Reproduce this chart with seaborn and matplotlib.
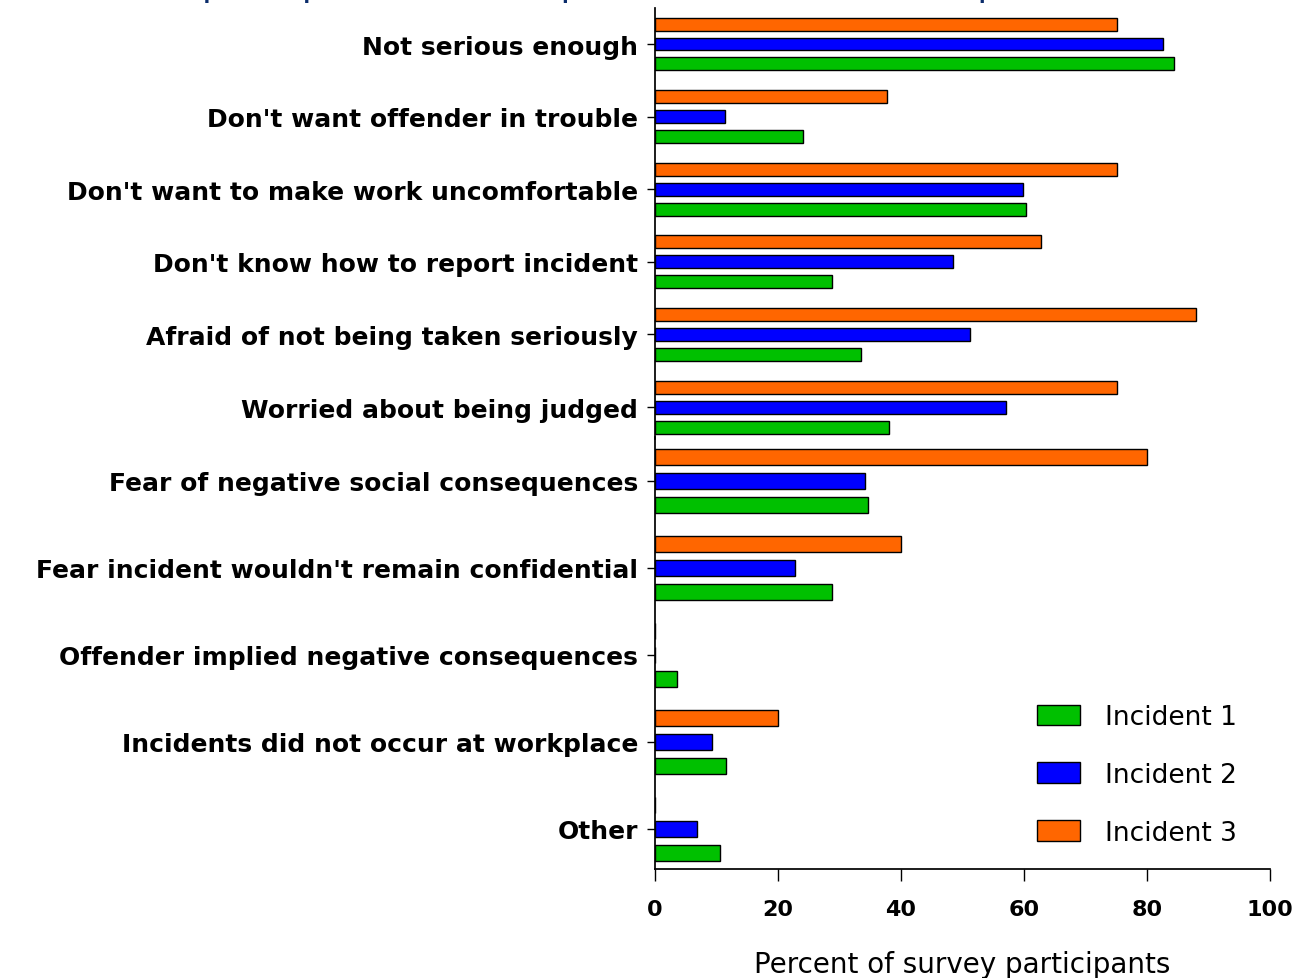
import matplotlib
matplotlib.use("Agg")
import matplotlib.pyplot as plt
import seaborn as sns
import pandas as pd
from matplotlib.patches import Patch

sns.set_theme(style="ticks")
plt.rcParams["font.family"] = ["DejaVu Sans"]
plt.rcParams["text.color"] = "black"

# reasons, upper block and lower block of the chart
reasons_top = [
    "Not serious enough",
    "Don't want offender in trouble",
    "Don't want to make work uncomfortable",
    "Don't know how to report incident",
    "Afraid of not being taken seriously",
    "Worried about being judged",
]
reasons_bottom = [
    "Fear of negative social consequences",
    "Fear incident wouldn't remain confidential",
    "Offender implied negative consequences",
    "Incidents did not occur at workplace",
    "Other",
]

# percent of survey participants
incident1_top = [84.4, 24.1, 60.3, 28.7, 33.5, 38.1]
incident2_top = [82.6, 11.4, 59.8, 48.5, 51.3, 57.0]
incident3_top = [75.2, 37.7, 75.2, 62.7, 87.9, 75.2]
incident1_bottom = [34.6, 28.7, 3.5, 11.6, 10.5]
incident2_bottom = [34.1, 22.8, 0.0, 9.2, 6.9]
incident3_bottom = [80.0, 40.0, 0.0, 20.0, 0.0]

incidents = ["Incident 1", "Incident 2", "Incident 3"]
colors = {"Incident 1": "#00C000", "Incident 2": "#0000FF", "Incident 3": "#FF6600"}
title = "Reasons participants did not report the incidents to workplace authorities"


def to_long(reasons, i1, i2, i3):
    parts = []
    for name, vals in zip(incidents, [i1, i2, i3]):
        parts.append(pd.DataFrame({"reason": reasons, "incident": name, "percent": vals}))
    return pd.concat(parts, ignore_index=True)


df_top = to_long(reasons_top, incident1_top, incident2_top, incident3_top)
df_bottom = to_long(reasons_bottom, incident1_bottom, incident2_bottom, incident3_bottom)

W, H = 1295, 979
fig = plt.figure(figsize=(W / 100, H / 100), dpi=100)


def px_axes(left, top, right, bottom):
    return fig.add_axes([left / W, 1 - bottom / H, (right - left) / W, (bottom - top) / H])


ax_top = px_axes(655, 8.7, 1270, 440)
ax_bot = px_axes(655, 438.5, 1270, 870)

for ax, df, order, ylim in [(ax_top, df_top, reasons_top, (5.44, -0.5)),
                            (ax_bot, df_bottom, reasons_bottom, (4.46, -0.5))]:
    sns.barplot(data=df, y="reason", x="percent", hue="incident", order=order,
                hue_order=["Incident 3", "Incident 2", "Incident 1"], palette=colors,
                saturation=1, orient="h", width=0.825, gap=0.35, edgecolor="black",
                linewidth=1, errorbar=None, legend=False, ax=ax)
    ax.set_xlim(0, 100)
    ax.set_ylim(*ylim)
    ax.set_ylabel("")
    ax.set_xlabel("")
    ax.tick_params(axis="y", length=5.8, width=1, pad=6.5, color="black")
    for lab in ax.get_yticklabels():
        lab.set_fontsize(18)
        lab.set_fontweight("bold")
        lab.set_color("black")
    for s in ["top", "right"]:
        ax.spines[s].set_visible(False)
    ax.spines["left"].set_color("black")
    ax.spines["bottom"].set_color("black")
    ax.patch.set_alpha(0)

ax_top.spines["bottom"].set_visible(False)
ax_top.tick_params(axis="x", bottom=False, labelbottom=False)

ax_bot.set_xticks([0, 20, 40, 60, 80, 100])
ax_bot.tick_params(axis="x", length=8.6, width=1, pad=13, color="black")
for lab in ax_bot.get_xticklabels():
    lab.set_fontsize(16)
    lab.set_fontweight("bold")
    lab.set_color("black")
ax_bot.set_xlabel("Percent of survey participants", fontsize=20, color="black", labelpad=22)

handles = [Patch(facecolor=colors[n], edgecolor="black", linewidth=1, label=n) for n in incidents]
ax_bot.legend(handles=handles, loc="upper left", bbox_to_anchor=(1024 / W, 1 - 692 / H),
              bbox_transform=fig.transFigure, frameon=False, fontsize=19, borderpad=0,
              handlelength=1.63, handleheight=0.83, handletextpad=0.95, labelspacing=1.2,
              labelcolor="black")

# title is cropped at the top edge, as in the original image
fig.text(0.5, 1 + 5 / H, title, ha="center", va="baseline", fontsize=27,
         color="#0B2C6B", family=["Liberation Sans", "DejaVu Sans"])

fig.savefig("out.png", dpi=100)
